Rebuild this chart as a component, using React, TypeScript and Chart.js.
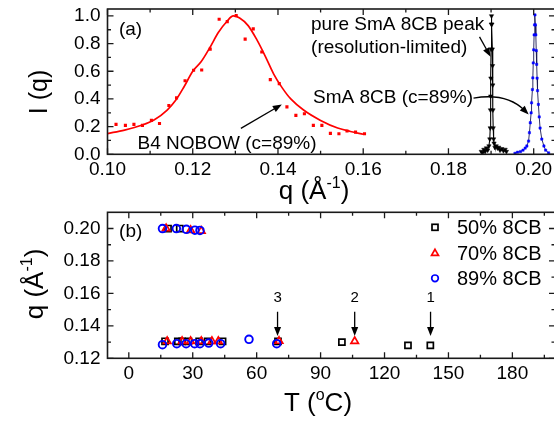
import React, { useEffect, useRef } from 'react';
import { Chart, registerables } from 'chart.js';

Chart.register(...registerables);

const FONT = "'Liberation Sans', Arial, Helvetica, sans-serif";

// ---------------- Panel (a): I(q) vs q ----------------
const qMinA = 0.1;
const qMaxA = 0.205;
const iMinA = 0;
const iMaxA = 1.05;
const qTicksA = [0.1, 0.12, 0.14, 0.16, 0.18, 0.2];
const qMinorA = [0.11, 0.13, 0.15, 0.17, 0.19];
const iTicksA = [0, 0.2, 0.4, 0.6, 0.8, 1.0];
const iMinorA = [0.1, 0.3, 0.5, 0.7, 0.9];

// B4 NOBOW (c=89%) data points
const nobowQ = [0.1020, 0.1042, 0.1062, 0.1082, 0.1103, 0.1122, 0.1144, 0.1162, 0.1182, 0.1202, 0.1221, 0.1241, 0.1262, 0.1281, 0.1302, 0.1323, 0.1342, 0.1362, 0.1382, 0.1403, 0.1421, 0.1442, 0.1462, 0.1483, 0.1503, 0.1523, 0.1543, 0.1562, 0.1582, 0.1603];
const nobowI = [0.216, 0.209, 0.216, 0.209, 0.245, 0.223, 0.353, 0.408, 0.532, 0.607, 0.609, 0.760, 0.976, 0.959, 1.002, 0.832, 0.906, 0.739, 0.540, 0.511, 0.343, 0.281, 0.293, 0.209, 0.209, 0.151, 0.149, 0.168, 0.160, 0.149];

// B4 NOBOW fit curve
const fitQ = [0.100, 0.104, 0.108, 0.111, 0.114, 0.116, 0.118, 0.120, 0.122, 0.124, 0.126, 0.128, 0.1295, 0.131, 0.133, 0.135, 0.137, 0.139, 0.141, 0.143, 0.146, 0.150, 0.154, 0.157, 0.160];
const fitI = [0.15, 0.175, 0.21, 0.25, 0.32, 0.39, 0.49, 0.60, 0.67, 0.77, 0.88, 0.96, 1.0, 0.985, 0.93, 0.83, 0.71, 0.58, 0.48, 0.40, 0.32, 0.245, 0.19, 0.165, 0.145];

// pure SmA 8CB peak (resolution-limited)
const pureQ = [0.1877, 0.1880, 0.1883, 0.1886, 0.1889, 0.1892, 0.1895, 0.1897, 0.1898, 0.18985, 0.1899, 0.18995, 0.1900, 0.19005, 0.1901, 0.1902, 0.1903, 0.19035, 0.1904, 0.19045, 0.1905, 0.1906, 0.1907, 0.1909, 0.1912, 0.1915, 0.1918, 0.1921, 0.1925, 0.1929, 0.1933, 0.1936];
const pureI = [0.02, 0.01, 0.035, 0.02, 0.045, 0.03, 0.06, 0.11, 0.19, 0.32, 0.42, 0.55, 0.76, 0.94, 1.0, 0.94, 0.76, 0.64, 0.50, 0.32, 0.19, 0.11, 0.08, 0.05, 0.06, 0.045, 0.05, 0.03, 0.04, 0.025, 0.035, 0.02];

// SmA 8CB (c=89%) peak
const smaQ = [0.1956, 0.1962, 0.1969, 0.1975, 0.1980, 0.1984, 0.1988, 0.1990, 0.1992, 0.1994, 0.1995, 0.1997, 0.1998, 0.1999, 0.2000, 0.2001, 0.2002, 0.2003, 0.2004, 0.2005, 0.2006, 0.2007, 0.2008, 0.2009, 0.2011, 0.2013, 0.2015, 0.2019, 0.2024, 0.2028, 0.2035];
const smaI = [0.007, 0.015, 0.02, 0.03, 0.045, 0.06, 0.096, 0.156, 0.228, 0.30, 0.372, 0.468, 0.552, 0.66, 0.755, 0.863, 0.935, 1.007, 0.935, 0.863, 0.75, 0.65, 0.55, 0.46, 0.36, 0.27, 0.19, 0.11, 0.06, 0.03, 0.01];

// ---------------- Panel (b): q vs T ----------------
const tMinB = -10;
const tMaxB = 200;
const qMinB = 0.12;
const qMaxB = 0.21;
const tTicksB = [0, 30, 60, 90, 120, 150, 180];
const tMinorB = [15, 45, 75, 105, 135, 165, 195];
const qTicksB = [0.12, 0.14, 0.16, 0.18, 0.2];
const qMinorB = [0.13, 0.15, 0.17, 0.19];

const s50T = [18.4, 23.9, 17, 23, 25, 28, 33, 37, 44, 70, 100, 131, 141.5];
const s50Q = [0.200, 0.200, 0.1305, 0.1305, 0.1305, 0.1305, 0.1305, 0.1305, 0.1305, 0.1305, 0.130, 0.128, 0.128];

const s70T = [17.5, 29, 34, 18, 25, 29, 34, 39, 42, 70.5, 106];
const s70Q = [0.200, 0.199, 0.1985, 0.1305, 0.1305, 0.1305, 0.1305, 0.1305, 0.1305, 0.1306, 0.1305];

const s89T = [15.8, 22.3, 27, 31, 33.4, 15.8, 22.5, 26.9, 30.9, 33.4, 37.5, 43.1, 56.4, 69.4];
const s89Q = [0.200, 0.200, 0.1995, 0.199, 0.1988, 0.1284, 0.129, 0.129, 0.129, 0.129, 0.1294, 0.129, 0.1317, 0.129];

const legendLabels = ['50% 8CB', '70% 8CB', '89% 8CB'];
const transitionT = [141.6, 106, 69.8];
const transitionLabels = ['1', '2', '3'];

// ---------------- helpers ----------------
const pts = (xs: number[], ys: number[]) => xs.map((x, i) => ({ x, y: ys[i] }));

function drawArrowHead(ctx: CanvasRenderingContext2D, x: number, y: number, ang: number, len = 9, half = 3.5) {
  ctx.beginPath();
  ctx.moveTo(x, y);
  ctx.lineTo(x - len * Math.cos(ang) + half * Math.sin(ang), y - len * Math.sin(ang) - half * Math.cos(ang));
  ctx.lineTo(x - len * Math.cos(ang) - half * Math.sin(ang), y - len * Math.sin(ang) + half * Math.cos(ang));
  ctx.closePath();
  ctx.fill();
}

function drawArrow(ctx: CanvasRenderingContext2D, x1: number, y1: number, x2: number, y2: number) {
  const ang = Math.atan2(y2 - y1, x2 - x1);
  ctx.beginPath();
  ctx.moveTo(x1, y1);
  ctx.lineTo(x2 - 6 * Math.cos(ang), y2 - 6 * Math.sin(ang));
  ctx.stroke();
  drawArrowHead(ctx, x2, y2, ang);
}

// text with superscript parts: parts = [[text, isSup], ...]
function drawRichText(ctx: CanvasRenderingContext2D, parts: [string, boolean][], cx: number, cy: number, size: number, rotate = false) {
  const supSize = Math.round(size * 0.6);
  let total = 0;
  for (const [t, sup] of parts) {
    ctx.font = `${sup ? supSize : size}px ${FONT}`;
    total += ctx.measureText(t).width;
  }
  ctx.save();
  ctx.translate(cx, cy);
  if (rotate) ctx.rotate(-Math.PI / 2);
  ctx.textBaseline = 'alphabetic';
  ctx.textAlign = 'left';
  let x = -total / 2;
  const base = size * 0.36;
  for (const [t, sup] of parts) {
    ctx.font = `${sup ? supSize : size}px ${FONT}`;
    ctx.fillText(t, x, sup ? base - size * 0.42 : base);
    x += ctx.measureText(t).width;
  }
  ctx.restore();
}

function framePlugin(majX: number[], minX: number[], majY: number[], minY: number[]) {
  return {
    id: 'frameTicks',
    afterDraw(chart: any) {
      const { ctx, chartArea: a } = chart;
      const xs = chart.scales.x;
      const ys = chart.scales.y;
      ctx.save();
      ctx.strokeStyle = '#1a1a1a';
      ctx.lineWidth = 1.6;
      ctx.strokeRect(a.left, a.top, a.right - a.left, a.bottom - a.top);
      ctx.lineWidth = 1.3;
      ctx.beginPath();
      const vx = (vals: number[], len: number) => {
        for (const v of vals) {
          const p = xs.getPixelForValue(v);
          ctx.moveTo(p, a.bottom);
          ctx.lineTo(p, a.bottom - len);
          ctx.moveTo(p, a.top);
          ctx.lineTo(p, a.top + len);
        }
      };
      const vy = (vals: number[], len: number) => {
        for (const v of vals) {
          const p = ys.getPixelForValue(v);
          ctx.moveTo(a.left, p);
          ctx.lineTo(a.left + len, p);
          ctx.moveTo(a.right, p);
          ctx.lineTo(a.right - len, p);
        }
      };
      vx(majX, 6);
      vx(minX, 3.5);
      vy(majY, 6);
      vy(minY, 3.5);
      ctx.stroke();
      ctx.restore();
    },
  };
}

const annotationsA = {
  id: 'annA',
  afterDraw(chart: any) {
    const { ctx } = chart;
    const xs = chart.scales.x;
    const ys = chart.scales.y;
    const X = (q: number) => xs.getPixelForValue(q);
    const Y = (i: number) => ys.getPixelForValue(i);
    ctx.save();
    ctx.fillStyle = '#000';
    ctx.strokeStyle = '#000';
    ctx.lineWidth = 1.3;
    ctx.font = `19px ${FONT}`;
    ctx.textBaseline = 'middle';
    ctx.textAlign = 'center';
    ctx.fillText('(a)', X(0.1054), Y(0.9));
    ctx.textAlign = 'left';
    ctx.fillText('B4 NOBOW (c=89%)', X(0.10706), Y(0.079));
    ctx.fillText('pure SmA 8CB peak', X(0.14776), Y(0.935));
    ctx.fillText('(resolution-limited)', X(0.14776), Y(0.77));
    ctx.fillText('SmA 8CB (c=89%)', X(0.14824), Y(0.41));
    drawArrow(ctx, X(0.1313), Y(0.187), X(0.1409), Y(0.36));
    drawArrow(ctx, X(0.18729), Y(0.849), X(0.18988), Y(0.705));
    // curved arrow
    const p0 = [X(0.18588), Y(0.4065)];
    const p1 = [X(0.19365), Y(0.446)];
    const p2 = [X(0.19882), Y(0.2878)];
    const ang = Math.atan2(p2[1] - p1[1], p2[0] - p1[0]);
    ctx.beginPath();
    ctx.moveTo(p0[0], p0[1]);
    ctx.quadraticCurveTo(p1[0], p1[1], p2[0] - 6 * Math.cos(ang), p2[1] - 6 * Math.sin(ang));
    ctx.stroke();
    drawArrowHead(ctx, p2[0], p2[1], ang);
    // axis titles
    drawRichText(ctx, [['I (q)', false]], 38, 92, 25, true);
    drawRichText(ctx, [['q (Å', false], ['-1', true], [')', false]], 314, 190, 26);
    ctx.restore();
  },
};

const annotationsB = {
  id: 'annB',
  afterDraw(chart: any) {
    const { ctx, chartArea: a } = chart;
    const xs = chart.scales.x;
    const ys = chart.scales.y;
    const X = (t: number) => xs.getPixelForValue(t);
    const Y = (q: number) => ys.getPixelForValue(q);
    ctx.save();
    ctx.fillStyle = '#000';
    ctx.strokeStyle = '#000';
    ctx.lineWidth = 1.3;
    ctx.font = `19px ${FONT}`;
    ctx.textBaseline = 'middle';
    ctx.textAlign = 'center';
    ctx.fillText('(b)', X(0.9), Y(0.1977));
    ctx.font = `15px ${FONT}`;
    transitionT.forEach((t, k) => {
      ctx.fillText(transitionLabels[k], X(t), Y(0.1571));
      drawArrow(ctx, X(t), Y(0.1487), X(t), Y(0.1337));
    });
    // legend
    const mx = a.right - 120;
    const tx = a.right - 98;
    const rows = [a.top + 15, a.top + 41, a.top + 66];
    ctx.lineWidth = 1.7;
    // square
    ctx.strokeStyle = '#000';
    ctx.strokeRect(mx - 3, rows[0] - 3, 6, 6);
    // triangle
    ctx.strokeStyle = '#ff0000';
    ctx.beginPath();
    const r = 4;
    ctx.moveTo(mx, rows[1] - r);
    ctx.lineTo(mx + r * 0.866, rows[1] + r * 0.5);
    ctx.lineTo(mx - r * 0.866, rows[1] + r * 0.5);
    ctx.closePath();
    ctx.stroke();
    // circle
    ctx.strokeStyle = '#0000ff';
    ctx.beginPath();
    ctx.arc(mx, rows[2], 3.3, 0, Math.PI * 2);
    ctx.stroke();
    ctx.font = `20px ${FONT}`;
    ctx.textAlign = 'left';
    legendLabels.forEach((l, k) => ctx.fillText(l, tx, rows[k] + 1));
    // axis titles (canvas is offset 205px from page top)
    drawRichText(ctx, [['q (Å', false], ['-1', true], [')', false]], 34, 284 - 205, 26, true);
    drawRichText(ctx, [['T (', false], ['o', true], ['C)', false]], 318, 402 - 205, 26);
    ctx.restore();
  },
};

const tickFont = { family: FONT, size: 19 };

function makeAxes(
  xMin: number, xMax: number, xTicks: number[], xFmt: (v: number) => string, xH: number,
  yMin: number, yMax: number, yTicks: number[], yFmt: (v: number) => string, yW: number,
) {
  return {
    x: {
      type: 'linear',
      min: xMin,
      max: xMax,
      afterBuildTicks: (s: any) => { s.ticks = xTicks.map((v) => ({ value: v })); },
      afterFit: (s: any) => { s.height = xH; s.paddingLeft = 0; s.paddingRight = 0; },
      ticks: { callback: (v: any) => xFmt(Number(v)), font: tickFont, color: '#000', padding: 4, autoSkip: false, maxRotation: 0, minRotation: 0 },
      grid: { display: false, drawTicks: false },
      border: { display: false },
    },
    y: {
      type: 'linear',
      min: yMin,
      max: yMax,
      afterBuildTicks: (s: any) => { s.ticks = yTicks.map((v) => ({ value: v })); },
      afterFit: (s: any) => { s.width = yW; s.paddingTop = 0; s.paddingBottom = 0; },
      ticks: { callback: (v: any) => yFmt(Number(v)), font: tickFont, color: '#000', padding: 7, autoSkip: false },
      grid: { display: false, drawTicks: false },
      border: { display: false },
    },
  };
}

const W = 562;
const HA = 205;
const HB = 218;

export default function App() {
  const refA = useRef<HTMLCanvasElement>(null);
  const refB = useRef<HTMLCanvasElement>(null);

  useEffect(() => {
    const common = {
      responsive: false,
      maintainAspectRatio: false,
      animation: false as const,
      events: [] as any[],
      plugins: { legend: { display: false }, tooltip: { enabled: false } },
    };

    const chartA = new Chart(refA.current as HTMLCanvasElement, {
      type: 'scatter',
      data: {
        datasets: [
          {
            label: 'B4 NOBOW fit',
            data: pts(fitQ, fitI),
            showLine: true,
            borderColor: '#ff0000',
            borderWidth: 1.7,
            pointRadius: 0,
            cubicInterpolationMode: 'monotone',
            order: 1,
          } as any,
          {
            label: 'B4 NOBOW (c=89%)',
            data: pts(nobowQ, nobowI),
            pointStyle: 'rect',
            pointRadius: 2.2,
            backgroundColor: '#ff0000',
            borderColor: '#ff0000',
            borderWidth: 0,
            order: 0,
          },
          {
            label: 'pure SmA 8CB peak',
            data: pts(pureQ, pureI),
            showLine: true,
            borderColor: '#000',
            borderWidth: 1.1,
            pointStyle: 'triangle',
            rotation: 180,
            pointRadius: 2.5,
            pointBackgroundColor: '#000',
            pointBorderColor: '#000',
            pointBorderWidth: 0.5,
            order: 2,
          } as any,
          {
            label: 'SmA 8CB (c=89%)',
            data: pts(smaQ, smaI),
            showLine: true,
            borderColor: '#1a1a55',
            borderWidth: 0.9,
            pointStyle: 'rect',
            pointRadius: 1.6,
            pointBackgroundColor: '#0000ff',
            pointBorderColor: '#0000ff',
            pointBorderWidth: 0.5,
            order: 3,
          } as any,
        ],
      },
      options: {
        ...common,
        layout: { padding: { left: 0, right: 7, top: 9, bottom: 0 } },
        scales: makeAxes(qMinA, qMaxA, qTicksA, (v) => v.toFixed(2), HA - 154.3,
          iMinA, iMaxA, iTicksA, (v) => v.toFixed(1), 107.5) as any,
      },
      plugins: [framePlugin(qTicksA, qMinorA, iTicksA, iMinorA), annotationsA],
    });

    const chartB = new Chart(refB.current as HTMLCanvasElement, {
      type: 'scatter',
      data: {
        datasets: [
          {
            label: '50% 8CB',
            data: pts(s50T, s50Q),
            pointStyle: 'rect',
            pointRadius: 4.3,
            backgroundColor: 'rgba(0,0,0,0)',
            borderColor: '#000',
            borderWidth: 1.7,
            order: 2,
          },
          {
            label: '70% 8CB',
            data: pts(s70T, s70Q),
            pointStyle: 'triangle',
            pointRadius: 4.3,
            backgroundColor: 'rgba(0,0,0,0)',
            borderColor: '#ff0000',
            borderWidth: 1.7,
            order: 1,
          },
          {
            label: '89% 8CB',
            data: pts(s89T, s89Q),
            pointStyle: 'circle',
            pointRadius: 3.8,
            backgroundColor: 'rgba(0,0,0,0)',
            borderColor: '#0000ff',
            borderWidth: 1.9,
            order: 0,
          },
        ],
      },
      options: {
        ...common,
        layout: { padding: { left: 0, right: 7, top: 7.3, bottom: 0 } },
        scales: makeAxes(tMinB, tMaxB, tTicksB, (v) => String(v), HB - 153.3,
          qMinB, qMaxB, qTicksB, (v) => v.toFixed(2), 107.5) as any,
      },
      plugins: [framePlugin(tTicksB, tMinorB, qTicksB, qMinorB), annotationsB],
    });

    return () => {
      chartA.destroy();
      chartB.destroy();
    };
  }, []);

  return (
    <div style={{ position: 'fixed', left: 0, top: 0, width: 554, height: 423, overflow: 'hidden', background: '#fff' }}>
      <canvas ref={refA} width={W} height={HA} style={{ position: 'absolute', left: 0, top: 0, width: W, height: HA }} />
      <canvas ref={refB} width={W} height={HB} style={{ position: 'absolute', left: 0, top: HA, width: W, height: HB }} />
    </div>
  );
}
